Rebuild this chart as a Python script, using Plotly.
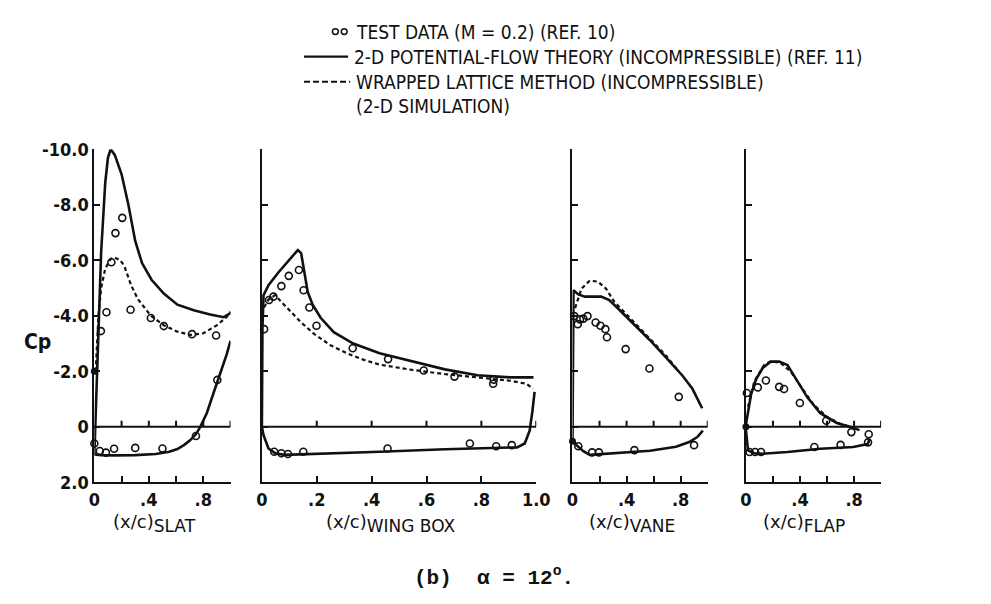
import plotly.graph_objects as go

# ---------------- data ----------------
x_ticks = [0, 0.2, 0.4, 0.6, 0.8, 1.0]
slat_tick_text = ["0", "", ".4", "", ".8", ""]
wing_tick_text = ["0", ".2", ".4", ".6", ".8", "1.0"]
vane_tick_text = ["0", "", ".4", "", ".8", ""]
flap_tick_text = ["0", "", ".4", "", ".8", ""]
cp_ticks = [-10, -8, -6, -4, -2, 0, 2]
cp_tick_text = ["-10.0", "-8.0", "-6.0", "-4.0", "-2.0", "0", "2.0"]

# SLAT
slat_up_x = [0.0, 0.01, 0.03, 0.05, 0.08, 0.10, 0.12, 0.15, 0.20, 0.25, 0.30, 0.35, 0.42, 0.51, 0.61, 0.73, 0.85, 0.95, 1.0]
slat_up_cp = [1.0, -0.5, -3.2, -6.3, -8.8, -9.7, -10.0, -9.8, -9.1, -8.0, -6.7, -5.9, -5.3, -4.8, -4.4, -4.2, -4.05, -3.95, -4.1]
slat_lo_x = [0.0, 0.02, 0.05, 0.15, 0.30, 0.45, 0.55, 0.61, 0.66, 0.705, 0.745, 0.778, 0.826, 0.874, 0.923, 0.971, 1.0]
slat_lo_cp = [1.0, 1.0, 1.02, 1.03, 1.02, 0.98, 0.9, 0.8, 0.65, 0.48, 0.27, 0.0, -0.5, -1.2, -1.9, -2.6, -3.1]
slat_wl_x = [0.01, 0.03, 0.05, 0.08, 0.12, 0.15, 0.19, 0.22, 0.27, 0.32, 0.415, 0.51, 0.61, 0.705, 0.80, 0.90, 0.97, 1.0]
slat_wl_cp = [-2.0, -4.0, -5.0, -5.7, -6.05, -6.1, -6.0, -5.8, -5.1, -4.6, -4.0, -3.66, -3.43, -3.31, -3.37, -3.66, -3.95, -4.15]
slat_test_x = [0.048, 0.089, 0.125, 0.155, 0.205, 0.266, 0.415, 0.51, 0.717, 0.894, 0.0, 0.04, 0.085, 0.145, 0.30, 0.50, 0.746, 0.903]
slat_test_cp = [-3.45, -4.13, -5.93, -6.98, -7.53, -4.22, -3.92, -3.63, -3.34, -3.29, 0.6, 0.87, 0.93, 0.79, 0.76, 0.78, 0.33, -1.69]
slat_le_x = [0.0]
slat_le_cp = [-2.0]

# WING BOX
wing_up_x = [0.0, 0.002, 0.006, 0.024, 0.06, 0.095, 0.131, 0.143, 0.155, 0.167, 0.185, 0.214, 0.262, 0.333, 0.429, 0.548, 0.667, 0.786, 0.905, 0.99]
wing_up_cp = [0.0, -3.5, -4.74, -5.1, -5.56, -5.97, -6.37, -6.26, -5.56, -4.86, -4.4, -3.93, -3.41, -3.0, -2.65, -2.36, -2.07, -1.86, -1.78, -1.78]
wing_lo_x = [0.0, 0.006, 0.024, 0.048, 0.083, 0.19, 0.43, 0.667, 0.93, 0.958, 0.976, 0.986, 0.994]
wing_lo_cp = [0.0, 0.3, 0.78, 0.95, 1.01, 0.98, 0.9, 0.81, 0.74, 0.6, 0.14, -0.56, -1.26]
wing_wl_x = [0.008, 0.025, 0.048, 0.071, 0.107, 0.143, 0.19, 0.25, 0.31, 0.369, 0.429, 0.548, 0.667, 0.786, 0.905, 0.964, 0.988]
wing_wl_cp = [-4.3, -4.6, -4.74, -4.5, -4.1, -3.76, -3.35, -2.94, -2.65, -2.42, -2.24, -2.05, -1.9, -1.78, -1.66, -1.55, -1.37]
wing_test_x = [0.008, 0.026, 0.042, 0.071, 0.098, 0.135, 0.152, 0.173, 0.199, 0.331, 0.46, 0.59, 0.702, 0.845, 0.843, 0.045, 0.071, 0.095, 0.151, 0.458, 0.758, 0.854, 0.911]
wing_test_cp = [-3.52, -4.57, -4.69, -5.07, -5.44, -5.65, -4.92, -4.3, -3.64, -2.83, -2.44, -2.03, -1.81, -1.7, -1.55, 0.9, 0.95, 0.98, 0.9, 0.78, 0.6, 0.7, 0.66]

# VANE
vane_up_x = [0.0, 0.007, 0.043, 0.092, 0.212, 0.272, 0.333, 0.453, 0.573, 0.694, 0.814, 0.887, 0.959]
vane_up_cp = [0.5, -4.92, -4.77, -4.69, -4.69, -4.57, -4.28, -3.7, -3.12, -2.48, -1.84, -1.37, -0.67]
vane_lo_x = [0.0, 0.01, 0.03, 0.08, 0.128, 0.333, 0.573, 0.766, 0.863, 0.923, 0.964]
vane_lo_cp = [0.45, 0.55, 0.66, 0.88, 1.01, 0.95, 0.86, 0.72, 0.55, 0.37, 0.14]
vane_wl_x = [0.019, 0.067, 0.128, 0.188, 0.248, 0.308, 0.38, 0.453, 0.573, 0.694, 0.79]
vane_wl_cp = [-4.28, -4.98, -5.27, -5.23, -4.98, -4.51, -4.15, -3.78, -3.19, -2.55, -1.97]
vane_test_x = [0.014, 0.039, 0.055, 0.08, 0.111, 0.171, 0.207, 0.243, 0.255, 0.393, 0.569, 0.786, 0.043, 0.145, 0.195, 0.458, 0.899]
vane_test_cp = [-3.99, -3.7, -3.87, -3.9, -3.99, -3.76, -3.64, -3.52, -3.23, -2.8, -2.1, -1.08, 0.7, 0.92, 0.92, 0.84, 0.66]
vane_le_x = [0.0]
vane_le_cp = [0.52]

# FLAP
flap_up_x = [0.0, 0.039, 0.075, 0.124, 0.185, 0.246, 0.307, 0.38, 0.453, 0.55, 0.672, 0.77, 0.84]
flap_up_cp = [-0.08, -1.19, -1.71, -2.12, -2.35, -2.35, -2.23, -1.65, -1.07, -0.49, -0.14, 0.0, 0.12]
flap_lo_x = [0.0, 0.015, 0.06, 0.124, 0.307, 0.55, 0.793, 0.9, 0.915]
flap_lo_cp = [0.1, 0.85, 0.95, 0.97, 0.91, 0.79, 0.73, 0.62, 0.45]
flap_wl_x = [0.015, 0.063, 0.136, 0.185, 0.258, 0.33, 0.4, 0.5, 0.6, 0.7, 0.8]
flap_wl_cp = [-0.72, -1.65, -2.23, -2.37, -2.29, -2.0, -1.5, -0.8, -0.35, -0.1, 0.05]
flap_test_x = [0.007, 0.088, 0.148, 0.246, 0.282, 0.399, 0.594, 0.78, 0.908, 0.027, 0.068, 0.112, 0.506, 0.70, 0.903]
flap_test_cp = [-1.22, -1.42, -1.67, -1.44, -1.36, -0.86, -0.22, 0.19, 0.27, 0.91, 0.91, 0.91, 0.73, 0.65, 0.56]
flap_le_x = [0.0]
flap_le_cp = [0.0]

panel_names = ["SLAT", "WING BOX", "VANE", "FLAP"]
legend_texts = ["TEST DATA (M = 0.2) (REF. 10)",
                "2-D POTENTIAL-FLOW THEORY (INCOMPRESSIBLE) (REF. 11)",
                "WRAPPED LATTICE METHOD (INCOMPRESSIBLE)",
                "(2-D SIMULATION)"]
caption_text = "(b)  \u03b1 = 12<sup>o</sup>."
cp_label = "Cp"

# ---------------- layout geometry (pixels) ----------------
W, H = 991, 604
PX_X = [(82, 221), (253, 533), (570, 708), (747, 885)]
PY_TOP, PY_BOT = 135, 480
TITLE_X = [143, 384, 631, 806]

COND = "Liberation Sans Narrow, DejaVu Sans Condensed, Roboto Condensed, Liberation Sans, sans-serif"
WIDE = "DejaVu Sans, Verdana, sans-serif"
MONO = "Liberation Mono, DejaVu Sans Mono, monospace"
BLACK = "#111111"


def fx(p):
    return p / W


def fy(p):
    return 1 - p / H


fig = go.Figure()

panels = [
    (slat_up_x, slat_up_cp, slat_lo_x, slat_lo_cp, slat_wl_x, slat_wl_cp, slat_test_x, slat_test_cp, slat_le_x, slat_le_cp, slat_tick_text),
    (wing_up_x, wing_up_cp, wing_lo_x, wing_lo_cp, wing_wl_x, wing_wl_cp, wing_test_x, wing_test_cp, [], [], wing_tick_text),
    (vane_up_x, vane_up_cp, vane_lo_x, vane_lo_cp, vane_wl_x, vane_wl_cp, vane_test_x, vane_test_cp, vane_le_x, vane_le_cp, vane_tick_text),
    (flap_up_x, flap_up_cp, flap_lo_x, flap_lo_cp, flap_wl_x, flap_wl_cp, flap_test_x, flap_test_cp, flap_le_x, flap_le_cp, flap_tick_text),
]

shapes = []
annotations = []
for i, (ux, ucp, lx, lcp, wx, wcp, tx, tcp, lex, lecp, ttext) in enumerate(panels):
    n = i + 1
    xa = "x" if n == 1 else f"x{n}"
    ya = "y" if n == 1 else f"y{n}"
    solid = dict(color=BLACK, width=2.6)
    fig.add_trace(go.Scatter(x=ux, y=ucp, mode="lines", line=solid, xaxis=xa, yaxis=ya, showlegend=False))
    fig.add_trace(go.Scatter(x=lx, y=lcp, mode="lines", line=solid, xaxis=xa, yaxis=ya, showlegend=False))
    fig.add_trace(go.Scatter(x=wx, y=wcp, mode="lines", line=dict(color=BLACK, width=2.2, dash="4px,3px"),
                             xaxis=xa, yaxis=ya, showlegend=False))
    fig.add_trace(go.Scatter(x=tx, y=tcp, mode="markers", cliponaxis=False,
                             marker=dict(symbol="circle-open", size=7, color=BLACK, line=dict(width=1.6, color=BLACK)),
                             xaxis=xa, yaxis=ya, showlegend=False))
    if lex:
        fig.add_trace(go.Scatter(x=lex, y=lecp, mode="markers", cliponaxis=False,
                                 marker=dict(symbol="circle", size=7, color=BLACK),
                                 xaxis=xa, yaxis=ya, showlegend=False))

    x0, x1 = PX_X[i]
    xkey = "xaxis" if n == 1 else f"xaxis{n}"
    ykey = "yaxis" if n == 1 else f"yaxis{n}"
    fig.layout[xkey] = dict(
        domain=[fx(x0), fx(x1)], range=[0, 1.0], anchor=ya,
        tickmode="array", tickvals=x_ticks, ticktext=ttext,
        ticks="inside", ticklen=6, tickwidth=2, tickcolor=BLACK,
        showline=True, linewidth=2, linecolor=BLACK,
        showgrid=False, zeroline=False, fixedrange=True,
        tickfont=dict(family=COND, size=18, color=BLACK, weight="bold"),
    )
    fig.layout[ykey] = dict(
        domain=[fy(PY_BOT), fy(PY_TOP)], range=[2.0, -10.0], anchor=xa,
        tickmode="array", tickvals=cp_ticks,
        ticktext=cp_tick_text if n == 1 else [""] * len(cp_ticks),
        showticklabels=(n == 1),
        ticks="inside", ticklen=6, tickwidth=2, tickcolor=BLACK,
        showline=True, linewidth=2, linecolor=BLACK,
        showgrid=False, zeroline=False, fixedrange=True,
        tickfont=dict(family=COND, size=18, color=BLACK, weight="bold"),
    )
    # Cp = 0 reference line with upward ticks
    shapes.append(dict(type="line", xref=xa, yref=ya, x0=0, x1=1.0, y0=0, y1=0,
                       line=dict(color=BLACK, width=2)))
    for tv in x_ticks[1:]:
        shapes.append(dict(type="line", xref=xa, yref=ya, ysizemode="pixel", yanchor=0,
                           x0=tv, x1=tv, y0=0, y1=6, line=dict(color=BLACK, width=2)))
    title = "(x/c)<sub><span style='font-size:17px'>" + panel_names[i] + "</span></sub>"
    annotations.append(dict(text=title, x=fx(TITLE_X[i]), y=fy(523), xref="paper", yref="paper",
                            xanchor="center", yanchor="middle", showarrow=False,
                            font=dict(family=WIDE, size=18, color=BLACK)))

# Legend (custom)
LEG_Y = [13, 39, 65, 90]
LEG_TX = [347, 345, 347, 347]
for t, yy, xx in zip(legend_texts, LEG_Y, LEG_TX):
    annotations.append(dict(text=t, x=fx(xx), y=fy(yy), xref="paper", yref="paper",
                            xanchor="left", yanchor="middle", showarrow=False,
                            font=dict(family=COND, size=19, color=BLACK)))
for cx in (328, 337):
    shapes.append(dict(type="circle", xref="paper", yref="paper",
                       x0=fx(cx - 3), x1=fx(cx + 3), y0=fy(LEG_Y[0] + 3), y1=fy(LEG_Y[0] - 3),
                       line=dict(color=BLACK, width=1.5)))
shapes.append(dict(type="line", xref="paper", yref="paper", x0=fx(296), x1=fx(341), y0=fy(LEG_Y[1]), y1=fy(LEG_Y[1]),
                   line=dict(color=BLACK, width=2.4)))
shapes.append(dict(type="line", xref="paper", yref="paper", x0=fx(296), x1=fx(343), y0=fy(LEG_Y[2]), y1=fy(LEG_Y[2]),
                   line=dict(color=BLACK, width=2.2, dash="6px,3px")))

# Cp label
annotations.append(dict(text=cp_label, x=fx(24), y=fy(335), xref="paper", yref="paper",
                        xanchor="center", yanchor="middle", showarrow=False,
                        font=dict(family=COND, size=21, color=BLACK, weight="bold")))
# Caption
annotations.append(dict(text=caption_text, x=fx(490), y=fy(578), xref="paper", yref="paper",
                        xanchor="center", yanchor="middle", showarrow=False,
                        font=dict(family=MONO, size=21, color=BLACK, weight="bold")))

fig.update_layout(
    width=W, height=H, autosize=False,
    margin=dict(l=0, r=0, t=0, b=0, pad=0),
    paper_bgcolor="white", plot_bgcolor="white",
    shapes=shapes, annotations=annotations,
    showlegend=False,
)

fig.write_html("out.html")
